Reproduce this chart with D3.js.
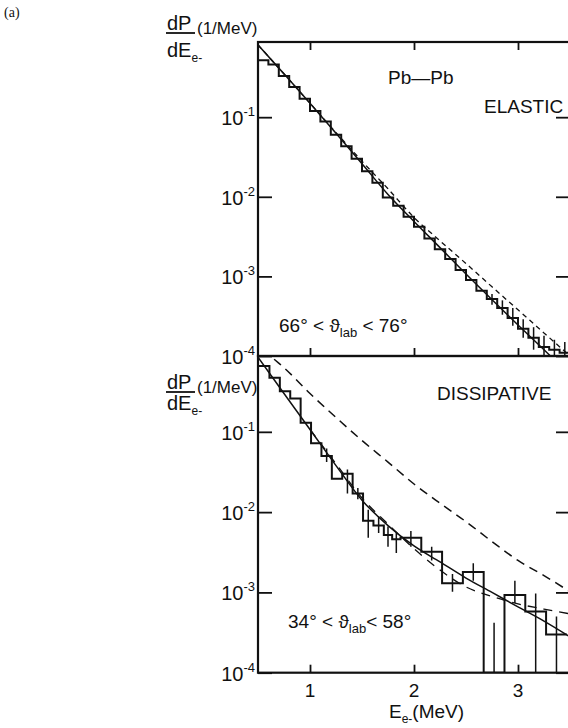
<head>
    <meta charset="utf-8">
    <style> body { margin: 0; background: #fff; } text { font-family: "Liberation Sans", Arial, sans-serif; fill: #111; } </style>
    <script src="https://d3js.org/d3.v7.min.js"></script>
</head>
<body>
<div id="chart"></div>
<script>

// ---- data ----
var xTicks = [1, 2, 3];
var yTicks = [1e-1, 1e-2, 1e-3, 1e-4];
var yTickExp = ["-1", "-2", "-3", "-4"];

// elastic panel, 0.1 MeV bins from 0.5
var topEdges = [0.5,0.6,0.7,0.8,0.9,1.0,1.1,1.2,1.3,1.4,1.5,1.6,1.7,1.8,1.9,2.0,2.1,2.2,2.3,2.4,2.5,2.6,2.7,2.8,2.9,3.0,3.1,3.2,3.3,3.4,3.5];
var topVals = [0.52,0.46,0.33,0.24,0.17,0.12,0.088,0.060,0.043,0.030,0.021,0.0150,0.0098,0.0077,0.0056,0.0042,0.0030,0.0022,0.00165,0.00120,0.00090,0.00066,0.00052,0.00040,0.00030,0.00022,0.00017,0.00013,0.00012,0.00011];
var topErr = [[2.75,0.00044,0.00060],[2.85,0.00033,0.00050],[2.95,0.00024,0.00040],[3.05,0.00017,0.00029],[3.15,0.00012,0.00023],[3.25,0.0001,0.00018],[3.35,0.0001,0.00016],[3.45,0.0001,0.00015]];
var topSolid = [[0.5,0.81],[0.75,0.35],[1.0,0.15],[1.25,0.063],[1.5,0.026],[1.75,0.0107],[2.0,0.0049],[2.25,0.0023],[2.5,0.00107],[2.75,0.00051],[3.0,0.000245],[3.25,0.00012],[3.5,0.000057]];
var topDash = [[0.5,0.81],[0.75,0.35],[1.0,0.15],[1.25,0.064],[1.5,0.028],[1.75,0.0126],[2.0,0.0055],[2.25,0.0028],[2.5,0.00145],[2.75,0.00074],[3.0,0.00038],[3.25,0.000195],[3.5,0.0001]];

// dissipative panel
var botEdges = [0.5,0.61,0.71,0.81,0.91,1.01,1.11,1.21,1.31,1.41,1.51,1.61,1.71,1.79,1.87,2.07,2.27,2.47,2.67,2.87,3.07,3.27,3.47];
var botVals = [0.66,0.47,0.32,0.26,0.13,0.072,0.05,0.026,0.03,0.017,0.0078,0.0068,0.0052,0.0046,0.0048,0.0032,0.0013,0.0018,0,0.00093,0.00058,0.0003];
var botErr = [[1.16,0.042,0.062],[1.36,0.017,0.034],[1.46,0.0145,0.020],[1.56,0.0048,0.0107],[1.66,0.0055,0.0089],[1.75,0.0037,0.0066],[1.83,0.0031,0.0055],[1.97,0.0037,0.0058],[2.17,0.0025,0.0037],[2.37,0.00102,0.0017],[2.57,0.0014,0.0023],[2.77,0.0001,0.00042],[2.97,0.00074,0.0014],[3.17,0.0001,0.00097],[3.37,0.0001,0.0005]];
var botSolid = [[0.5,0.85],[0.75,0.30],[1.0,0.107],[1.25,0.038],[1.5,0.0141],[1.75,0.0068],[2.0,0.0038],[2.25,0.0024],[2.5,0.00151],[2.75,0.001],[3.0,0.00066],[3.25,0.00044],[3.5,0.00028]];
var botDashNear = [[1.0,0.107],[1.25,0.040],[1.5,0.015],[1.75,0.0071],[2.0,0.0035],[2.25,0.0019],[2.5,0.00117],[2.75,0.00089],[3.0,0.00072],[3.25,0.00062],[3.5,0.00054]];
var botDashUp = [[0.55,1.08],[0.62,0.88],[0.75,0.63],[1.0,0.30],[1.25,0.151],[1.5,0.078],[1.75,0.042],[2.0,0.0224],[2.25,0.0129],[2.5,0.0076],[2.75,0.0043],[3.0,0.0025],[3.25,0.00162],[3.5,0.00102]];

// ---- layout ----
var W = 568, H = 728;
var left = 258, right = 570;
var topY0 = 42, midY = 356, botY1 = 672.7;
var yMin = 1e-4, yMax = 0.88;

var svg = d3.select("#chart").append("svg")
    .attr("width", W)
    .attr("height", H);

var x = d3.scaleLinear().domain([0.5, 3.5]).range([left, right]);
var yTop = d3.scaleLog().domain([yMin, yMax]).range([midY, topY0]);
var yBot = d3.scaleLog().domain([yMin, yMax]).range([botY1, midY]);

var defs = svg.append("defs");
defs.append("clipPath").attr("id", "clipTop").append("rect")
    .attr("x", left).attr("y", topY0).attr("width", right - left).attr("height", midY - topY0);
defs.append("clipPath").attr("id", "clipBot").append("rect")
    .attr("x", left).attr("y", midY).attr("width", right - left).attr("height", botY1 - midY);

function panel(y, clipId, edges, vals, errs, curves) {
    var g = svg.append("g").attr("clip-path", "url(#" + clipId + ")");

    var steps = edges.slice(0, -1).map((e, i) => [e, vals[i]]);
    steps.push([edges[edges.length - 1], vals[vals.length - 1]]);

    g.append("path")
        .attr("d", d3.line()
            .curve(d3.curveStepAfter)
            .x(d => x(d[0]))
            .y(d => y(Math.max(d[1], yMin)))(steps))
        .attr("fill", "none")
        .attr("stroke", "#111")
        .attr("stroke-width", 2);

    g.selectAll(".err")
        .data(errs)
        .enter()
        .append("line")
        .attr("x1", d => x(d[0]))
        .attr("x2", d => x(d[0]))
        .attr("y1", d => y(d[1]))
        .attr("y2", d => y(d[2]))
        .attr("stroke", "#111")
        .attr("stroke-width", 1.5);

    curves.forEach(c => {
        g.append("path")
            .attr("d", d3.line()
                .curve(d3.curveMonotoneX)
                .x(d => x(d[0]))
                .y(d => y(d[1]))(c.data))
            .attr("fill", "none")
            .attr("stroke", "#111")
            .attr("stroke-width", c.w)
            .attr("stroke-dasharray", c.dash);
    });
}

panel(yTop, "clipTop", topEdges, topVals, topErr, [
    { data: topSolid, w: 1.5, dash: null },
    { data: topDash, w: 1.3, dash: "5,4" }
]);
panel(yBot, "clipBot", botEdges, botVals, botErr, [
    { data: botSolid, w: 1.5, dash: null },
    { data: botDashNear, w: 1.3, dash: "9,7" },
    { data: botDashUp, w: 1.5, dash: "9,6" }
]);

// ---- frames and ticks ----
function frame(y, y0, y1, tickTop) {
    svg.append("rect")
        .attr("x", left).attr("y", y0)
        .attr("width", right - left).attr("height", y1 - y0)
        .attr("fill", "none").attr("stroke", "#111").attr("stroke-width", 2.2);

    var ax = [
        [d3.axisLeft(y).tickValues(yTicks).tickSize(-14), "translate(" + left + ",0)"],
        [d3.axisRight(y).tickValues(yTicks).tickSize(-14), "translate(" + right + ",0)"],
        [d3.axisBottom(x).tickValues(xTicks).tickSize(-8), "translate(0," + y1 + ")"]
    ];
    if (tickTop) ax.push([d3.axisTop(x).tickValues(xTicks).tickSize(-8), "translate(0," + y0 + ")"]);

    ax.forEach(a => {
        var g = svg.append("g").attr("transform", a[1]).call(a[0].tickFormat(""));
        g.select(".domain").remove();
        g.selectAll(".tick line").attr("stroke", "#111").attr("stroke-width", 1.8);
    });

    // 10^n labels
    yTicks.forEach((t, i) => {
        if (y(t) < y0 + 5) return;
        var tx = svg.append("text")
            .attr("x", left - 3)
            .attr("y", y(t) + 8)
            .attr("text-anchor", "end")
            .style("font-size", "20px");
        tx.append("tspan").text("10");
        tx.append("tspan").attr("dy", -9).style("font-size", "13px").text(yTickExp[i]);
    });
}

frame(yTop, topY0, midY, true);
frame(yBot, midY, botY1, false);

// x tick labels
svg.selectAll(".xl")
    .data(xTicks)
    .enter()
    .append("text")
    .attr("x", d => x(d))
    .attr("y", 697)
    .attr("text-anchor", "middle")
    .style("font-size", "19px")
    .text(d => d);

var xt = svg.append("text").attr("x", 389).attr("y", 718).style("font-size", "19px");
xt.append("tspan").text("E");
xt.append("tspan").attr("dy", 5).style("font-size", "12px").text("e-");
xt.append("tspan").attr("dy", -5).text("(MeV)");

// dP/dE labels
function fracLabel(yNum, yDen) {
    svg.append("text").attr("x", 167).attr("y", yNum).style("font-size", "20px").text("dP");
    svg.append("line")
        .attr("x1", 166).attr("x2", 195)
        .attr("y1", yNum + 3).attr("y2", yNum + 3)
        .attr("stroke", "#111").attr("stroke-width", 1.8);
    svg.append("text").attr("x", 197).attr("y", yNum + 4).style("font-size", "17px").text("(1/MeV)");
    var den = svg.append("text").attr("x", 167).attr("y", yDen).style("font-size", "20px");
    den.append("tspan").text("dE");
    den.append("tspan").attr("dy", 5).style("font-size", "12px").text("e-");
}
fracLabel(30, 57);
fracLabel(389, 410);

// labels in the panels
function label(xp, yp, size, parts) {
    var t = svg.append("text").attr("x", xp).attr("y", yp).style("font-size", size + "px");
    parts.forEach(p => {
        t.append("tspan").attr("dy", p[1]).style("font-size", p[2] ? p[2] + "px" : null).text(p[0]);
    });
}

label(388, 84, 19, [["Pb\u2014Pb", 0]]);
label(484, 113, 19, [["ELASTIC", 0]]);
label(437, 400, 19, [["DISSIPATIVE", 0]]);
label(279, 332, 19, [["66\u00b0 < \u03d1", 0], ["lab", 5, 13], [" < 76\u00b0", -5]]);
label(288, 628, 19, [["34\u00b0 < \u03d1", 0], ["lab", 5, 13], ["< 58\u00b0", -5]]);

svg.append("text")
    .attr("x", 4).attr("y", 17)
    .style("font-family", "'Liberation Serif', serif")
    .style("font-size", "14px")
    .text("(a)");

</script>
</body>
